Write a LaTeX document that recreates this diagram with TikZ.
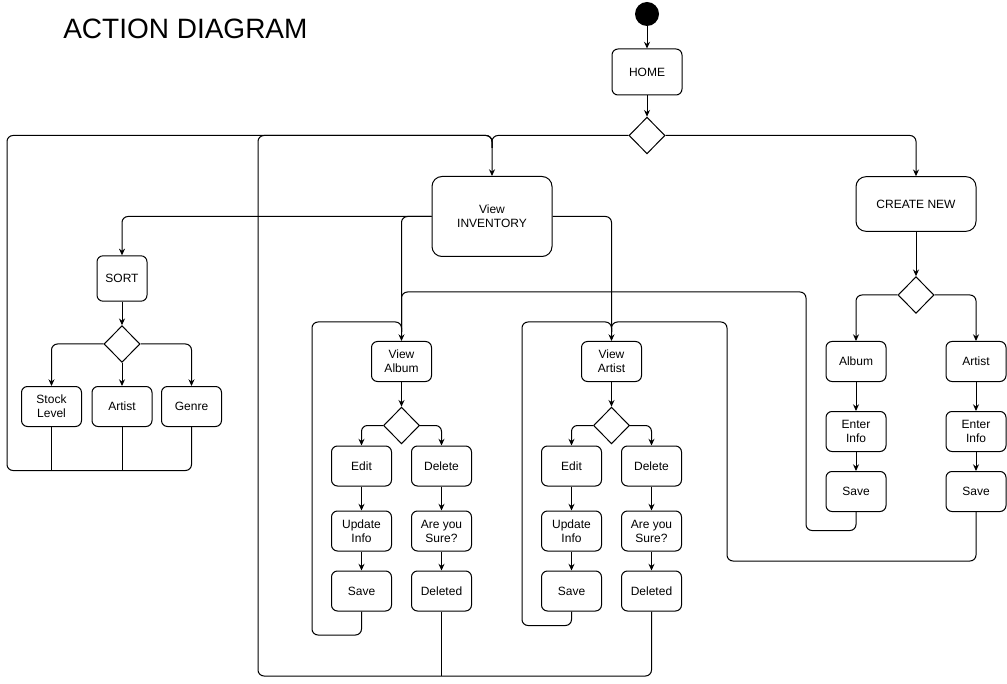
\documentclass[tikz,border=0pt]{standalone}
\usepackage{fontspec}
\setmainfont{Liberation Sans}
\usetikzlibrary{shapes.geometric,arrows.meta}
\begin{document}
\begin{tikzpicture}[x=0.75pt,y=-0.75pt,
  box/.style={draw, line width=0.75pt, rounded corners=4.5pt, minimum width=45pt,
    minimum height=30pt, align=center, inner sep=1pt, font=\fontsize{9}{10.5}\selectfont},
  bigbox/.style={box, minimum width=90pt, rounded corners=7.5pt},
  decision/.style={draw, line width=0.75pt, diamond, minimum width=27pt, minimum height=27.5pt, inner sep=0pt},
  startdot/.style={circle, fill=black, minimum size=18pt, inner sep=0pt},
  flow/.style={line width=0.75pt, rounded corners=4.5pt},
  arr/.style={flow, -{Stealth[length=5pt,width=4.5pt]}}]
\useasboundingbox (0,0) rectangle (1007,684);

% title
\node[anchor=west, inner sep=0pt, font=\fontsize{21}{24}\selectfont] (title) at (63,29) {ACTION DIAGRAM};

% entry and main decision
\node[startdot] (start) at (647,14) {};
\node[box, minimum width=52.5pt, minimum height=34.5pt] (home) at (647,72) {HOME};
\node[decision] (d1) at (647,135.5) {};
\node[bigbox, minimum height=60pt] (inv) at (492,216.5) {View\\INVENTORY};
\node[bigbox, minimum height=41pt] (create) at (916,204) {CREATE NEW};

% sorting branch
\node[box, minimum width=37.5pt, minimum height=34pt] (sort) at (122,278.5) {SORT};
\node[decision] (d2) at (122,344) {};
\node[box] (stock) at (51.5,406.5) {Stock\\Level};
\node[box] (sartist) at (122,406.5) {Artist};
\node[box] (genre) at (191.5,406.5) {Genre};

% album branch
\node[box] (valbum) at (401.5,361.5) {View\\Album};
\node[decision] (d3) at (401.5,425.5) {};
\node[box] (aedit) at (361.5,466) {Edit};
\node[box] (adel) at (441.5,466) {Delete};
\node[box] (aupd) at (361.5,531) {Update\\Info};
\node[box] (asure) at (441.5,531) {Are you\\Sure?};
\node[box] (asave) at (361.5,591) {Save};
\node[box] (adeleted) at (441.5,591) {Deleted};

% artist branch
\node[box] (vartist) at (611.5,361.5) {View\\Artist};
\node[decision] (d4) at (611.5,425.5) {};
\node[box] (redit) at (571.5,466) {Edit};
\node[box] (rdel) at (651.5,466) {Delete};
\node[box] (rupd) at (571.5,531) {Update\\Info};
\node[box] (rsure) at (651.5,531) {Are you\\Sure?};
\node[box] (rsave) at (571.5,591) {Save};
\node[box] (rdeleted) at (651.5,591) {Deleted};

% create branch
\node[decision] (d5) at (916,295) {};
\node[box] (calbum) at (856,361.5) {Album};
\node[box] (cartist) at (976,361.5) {Artist};
\node[box] (caenter) at (856,431.5) {Enter\\Info};
\node[box] (crenter) at (976,431.5) {Enter\\Info};
\node[box] (casave) at (856,491.5) {Save};
\node[box] (crsave) at (976,491.5) {Save};

% return-loop turning points and merge points
\coordinate (sortL) at (7,470.5);
\coordinate (sortTop) at (7,135.5);
\coordinate (delL) at (258,676);
\coordinate (delTop) at (258,135.5);
\coordinate (albL) at (312,635);
\coordinate (albTop) at (312,322);
\coordinate (artL) at (522,625.5);
\coordinate (artTop) at (522,322);
\coordinate (cAlbB) at (806,530.5);
\coordinate (cAlbT) at (806,292);
\coordinate (cArtB) at (727,561);
\coordinate (cArtT) at (727,322);
\coordinate (invIn) at (492,148);
\coordinate (albIn) at (401.5,332);
\coordinate (artIn) at (611.5,332);

% main flow
\draw[arr] (start) -- (home);
\draw[arr] (home) -- (d1);
\draw[arr] (d1.west) -| (inv.north);
\draw[arr] (d1.east) -| (create.north);
\draw[arr] (create) -- (d5);

% sorting
\draw[arr] (inv.west) -| (sort.north);
\draw[arr] (sort) -- (d2);
\draw[arr] (d2.west) -| (stock.north);
\draw[arr] (d2) -- (sartist);
\draw[arr] (d2.east) -| (genre.north);
\draw[flow] (stock.south) -- (stock.south |- sortL);
\draw[flow] (sartist.south) -- (sartist.south |- sortL);
\draw[flow] (genre.south) |- (sortL) -- (sortTop) -| (invIn);

% album
\draw[arr] (inv.west) -| (valbum.north);
\draw[arr] (valbum) -- (d3);
\draw[arr] (d3.west) -| (aedit.north);
\draw[arr] (d3.east) -| (adel.north);
\draw[arr] (aedit) -- (aupd);
\draw[arr] (aupd) -- (asave);
\draw[arr] (adel) -- (asure);
\draw[arr] (asure) -- (adeleted);
\draw[flow] (asave.south) |- (albL) -- (albTop) -| (albIn);

% artist
\draw[arr] (inv.east) -| (vartist.north);
\draw[arr] (vartist) -- (d4);
\draw[arr] (d4.west) -| (redit.north);
\draw[arr] (d4.east) -| (rdel.north);
\draw[arr] (redit) -- (rupd);
\draw[arr] (rupd) -- (rsave);
\draw[arr] (rdel) -- (rsure);
\draw[arr] (rsure) -- (rdeleted);
\draw[flow] (rsave.south) |- (artL) -- (artTop) -| (artIn);

% deletions return to the inventory
\draw[flow] (adeleted.south) -- (adeleted.south |- delL);
\draw[flow] (rdeleted.south) |- (delL) -- (delTop) -| (invIn);

% create new
\draw[arr] (d5.west) -| (calbum.north);
\draw[arr] (d5.east) -| (cartist.north);
\draw[arr] (calbum) -- (caenter);
\draw[arr] (caenter) -- (casave);
\draw[arr] (cartist) -- (crenter);
\draw[arr] (crenter) -- (crsave);
\draw[flow] (casave.south) |- (cAlbB) -- (cAlbT) -| (albIn);
\draw[flow] (crsave.south) |- (cArtB) -- (cArtT) -| (artIn);
\end{tikzpicture}
\end{document}
